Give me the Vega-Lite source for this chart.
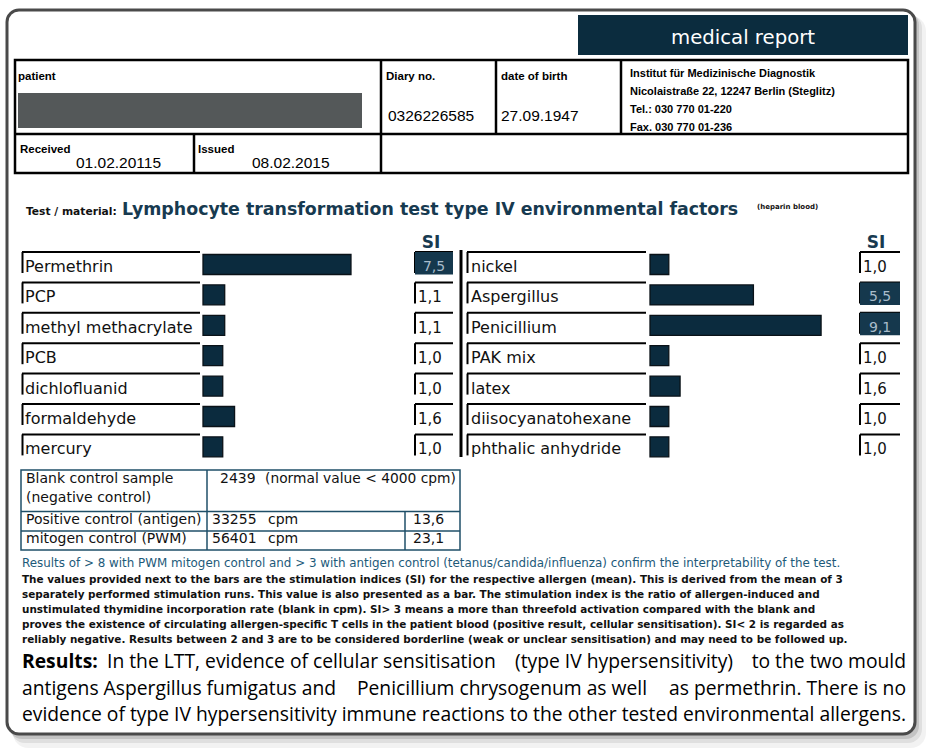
{
"$schema": "https://vega.github.io/schema/vega-lite/v6.json",
"width": 930, "height": 751, "autosize": {"type": "none"}, "padding": 0,
"background": "white",
"config": {"view": {"stroke": null}, "text": {"font": "Open Sans", "fontSize": 19.3, "align": "left", "baseline": "alphabetic", "color": "#000"}, "locale": {"number": {"decimal": ",", "thousands": ".", "grouping": [3], "currency": ["", " €"]}}},
"resolve": {"scale": {"x": "independent", "y": "independent", "color": "independent"}},
"datasets": {
 "left": [
  {"allergen": "Permethrin", "si": 7.5},
  {"allergen": "PCP", "si": 1.1},
  {"allergen": "methyl methacrylate", "si": 1.1},
  {"allergen": "PCB", "si": 1.0},
  {"allergen": "dichlofluanid", "si": 1.0},
  {"allergen": "formaldehyde", "si": 1.6},
  {"allergen": "mercury", "si": 1.0}
 ],
 "right": [
  {"allergen": "nickel", "si": 1.0},
  {"allergen": "Aspergillus", "si": 5.5},
  {"allergen": "Penicillium", "si": 9.1},
  {"allergen": "PAK mix", "si": 1.0},
  {"allergen": "latex", "si": 1.6},
  {"allergen": "diisocyanatohexane", "si": 1.0},
  {"allergen": "phthalic anhydride", "si": 1.0}
 ],
 "controls": [
  {"control": "Positive control (antigen)", "cpm": 33255, "si": 13.6},
  {"control": "mitogen control (PWM)", "cpm": 56401, "si": 23.1}
 ],
 "blank": [{"control": "Blank control sample", "cpm": 2439}],
 "institute": [
  {"line": "Institut für Medizinische Diagnostik"},
  {"line": "Nicolaistraße 22, 12247 Berlin (Steglitz)"},
  {"line": "Tel.: 030 770 01-220"},
  {"line": "Fax. 030 770 01-236"}
 ],
 "notes": [
  {"line": "The values provided next to the bars are the stimulation indices (SI) for the respective allergen (mean). This is derived from the mean of 3"},
  {"line": "separately performed stimulation runs. This value is also presented as a bar. The stimulation index is the ratio of allergen-induced and"},
  {"line": "unstimulated thymidine incorporation rate (blank in cpm). SI> 3 means a more than threefold activation compared with the blank and"},
  {"line": "proves the existence of circulating allergen-specific T cells in the patient blood (positive result, cellular sensitisation). SI< 2 is regarded as"},
  {"line": "reliably negative. Results between 2 and 3 are to be considered borderline (weak or unclear sensitisation) and may need to be followed up."}
 ]
},
"layer": [
 {"data": {"values": [{}]}, "mark": {"type": "rect", "fill": "#000", "opacity": 0.05, "cornerRadius": 15},
  "encoding": {"x": {"datum": 13, "type": "quantitative", "scale": {"domain": [0, 930], "nice": false, "zero": false}, "axis": null}, "x2": {"datum": 926},
   "y": {"datum": 16, "type": "quantitative", "scale": {"domain": [751, 0], "nice": false, "zero": false}, "axis": null}, "y2": {"datum": 748}}},
 {"data": {"values": [{}]}, "mark": {"type": "rect", "fill": "#000", "opacity": 0.08, "cornerRadius": 14},
  "encoding": {"x": {"datum": 11, "type": "quantitative", "scale": {"domain": [0, 930], "nice": false, "zero": false}, "axis": null}, "x2": {"datum": 922},
   "y": {"datum": 14, "type": "quantitative", "scale": {"domain": [751, 0], "nice": false, "zero": false}, "axis": null}, "y2": {"datum": 743}}},
 {"data": {"values": [{}]}, "mark": {"type": "rect", "fill": "#000", "opacity": 0.12, "cornerRadius": 13},
  "encoding": {"x": {"datum": 9, "type": "quantitative", "scale": {"domain": [0, 930], "nice": false, "zero": false}, "axis": null}, "x2": {"datum": 919},
   "y": {"datum": 12, "type": "quantitative", "scale": {"domain": [751, 0], "nice": false, "zero": false}, "axis": null}, "y2": {"datum": 739}}},
 {"data": {"values": [{}]}, "mark": {"type": "rect", "fill": "#ffffff", "stroke": "#4a4a4a", "strokeWidth": 3, "cornerRadius": 12},
  "encoding": {"x": {"datum": 7, "type": "quantitative", "scale": {"domain": [0, 930], "nice": false, "zero": false}, "axis": null}, "x2": {"datum": 915},
   "y": {"datum": 10, "type": "quantitative", "scale": {"domain": [751, 0], "nice": false, "zero": false}, "axis": null}, "y2": {"datum": 734}}},

 {"data": {"values": [{}]}, "mark": {"type": "rect", "fill": "#0b2c3e"},
  "encoding": {"x": {"datum": 578, "type": "quantitative", "scale": {"domain": [0, 930], "nice": false, "zero": false}, "axis": null}, "x2": {"datum": 908},
   "y": {"datum": 15, "type": "quantitative", "scale": {"domain": [751, 0], "nice": false, "zero": false}, "axis": null}, "y2": {"datum": 55}}},
 {"data": {"values": [{}]}, "mark": {"type": "text", "align": "center", "font": "DejaVu Sans", "fontSize": 19.7, "color": "#ffffff"},
  "encoding": {"x": {"datum": 743, "type": "quantitative", "scale": {"domain": [0, 930], "nice": false, "zero": false}, "axis": null},
   "y": {"datum": 44, "type": "quantitative", "scale": {"domain": [751, 0], "nice": false, "zero": false}, "axis": null}, "text": {"value": "medical report"}}},

 {"data": {"values": [{}]}, "mark": {"type": "rect", "fillOpacity": 0, "stroke": "#000", "strokeWidth": 2.5},
  "encoding": {"x": {"datum": 15, "type": "quantitative", "scale": {"domain": [0, 930], "nice": false, "zero": false}, "axis": null}, "x2": {"datum": 908},
   "y": {"datum": 60, "type": "quantitative", "scale": {"domain": [751, 0], "nice": false, "zero": false}, "axis": null}, "y2": {"datum": 173}}},
 {"data": {"values": [{}]}, "mark": {"type": "rule", "stroke": "#000", "strokeWidth": 2.5},
  "encoding": {"x": {"datum": 15, "type": "quantitative", "scale": {"domain": [0, 930], "nice": false, "zero": false}, "axis": null}, "x2": {"datum": 908},
   "y": {"datum": 134, "type": "quantitative", "scale": {"domain": [751, 0], "nice": false, "zero": false}, "axis": null}}},
 {"data": {"values": [{}]}, "mark": {"type": "rule", "stroke": "#000", "strokeWidth": 2.5},
  "encoding": {"x": {"datum": 381, "type": "quantitative", "scale": {"domain": [0, 930], "nice": false, "zero": false}, "axis": null},
   "y": {"datum": 60, "type": "quantitative", "scale": {"domain": [751, 0], "nice": false, "zero": false}, "axis": null}, "y2": {"datum": 173}}},
 {"data": {"values": [{}]}, "mark": {"type": "rule", "stroke": "#000", "strokeWidth": 2.5},
  "encoding": {"x": {"datum": 496, "type": "quantitative", "scale": {"domain": [0, 930], "nice": false, "zero": false}, "axis": null},
   "y": {"datum": 60, "type": "quantitative", "scale": {"domain": [751, 0], "nice": false, "zero": false}, "axis": null}, "y2": {"datum": 134}}},
 {"data": {"values": [{}]}, "mark": {"type": "rule", "stroke": "#000", "strokeWidth": 2.5},
  "encoding": {"x": {"datum": 621, "type": "quantitative", "scale": {"domain": [0, 930], "nice": false, "zero": false}, "axis": null},
   "y": {"datum": 60, "type": "quantitative", "scale": {"domain": [751, 0], "nice": false, "zero": false}, "axis": null}, "y2": {"datum": 134}}},
 {"data": {"values": [{}]}, "mark": {"type": "rule", "stroke": "#000", "strokeWidth": 2.5},
  "encoding": {"x": {"datum": 194, "type": "quantitative", "scale": {"domain": [0, 930], "nice": false, "zero": false}, "axis": null},
   "y": {"datum": 134, "type": "quantitative", "scale": {"domain": [751, 0], "nice": false, "zero": false}, "axis": null}, "y2": {"datum": 173}}},
 {"data": {"values": [{}]}, "mark": {"type": "rect", "fill": "#545859"},
  "encoding": {"x": {"datum": 18, "type": "quantitative", "scale": {"domain": [0, 930], "nice": false, "zero": false}, "axis": null}, "x2": {"datum": 362},
   "y": {"datum": 93, "type": "quantitative", "scale": {"domain": [751, 0], "nice": false, "zero": false}, "axis": null}, "y2": {"datum": 128}}},

 {"data": {"values": [{}]}, "mark": {"type": "text", "font": "Liberation Sans", "fontWeight": "bold", "fontSize": 11.5},
  "encoding": {"x": {"datum": 18, "type": "quantitative", "scale": {"domain": [0, 930], "nice": false, "zero": false}, "axis": null},
   "y": {"datum": 80, "type": "quantitative", "scale": {"domain": [751, 0], "nice": false, "zero": false}, "axis": null}, "text": {"value": "patient"}}},
 {"data": {"values": [{}]}, "mark": {"type": "text", "font": "Liberation Sans", "fontWeight": "bold", "fontSize": 11.5},
  "encoding": {"x": {"datum": 386, "type": "quantitative", "scale": {"domain": [0, 930], "nice": false, "zero": false}, "axis": null},
   "y": {"datum": 80, "type": "quantitative", "scale": {"domain": [751, 0], "nice": false, "zero": false}, "axis": null}, "text": {"value": "Diary no."}}},
 {"data": {"values": [{}]}, "mark": {"type": "text", "font": "Liberation Sans", "fontWeight": "bold", "fontSize": 11.5},
  "encoding": {"x": {"datum": 501, "type": "quantitative", "scale": {"domain": [0, 930], "nice": false, "zero": false}, "axis": null},
   "y": {"datum": 80, "type": "quantitative", "scale": {"domain": [751, 0], "nice": false, "zero": false}, "axis": null}, "text": {"value": "date of birth"}}},
 {"data": {"values": [{}]}, "mark": {"type": "text", "font": "Liberation Sans", "fontWeight": "bold", "fontSize": 11.5},
  "encoding": {"x": {"datum": 20, "type": "quantitative", "scale": {"domain": [0, 930], "nice": false, "zero": false}, "axis": null},
   "y": {"datum": 153, "type": "quantitative", "scale": {"domain": [751, 0], "nice": false, "zero": false}, "axis": null}, "text": {"value": "Received"}}},
 {"data": {"values": [{}]}, "mark": {"type": "text", "font": "Liberation Sans", "fontWeight": "bold", "fontSize": 11.5},
  "encoding": {"x": {"datum": 198, "type": "quantitative", "scale": {"domain": [0, 930], "nice": false, "zero": false}, "axis": null},
   "y": {"datum": 153, "type": "quantitative", "scale": {"domain": [751, 0], "nice": false, "zero": false}, "axis": null}, "text": {"value": "Issued"}}},
 {"data": {"name": "institute"},
  "mark": {"type": "text", "font": "Liberation Sans", "fontWeight": "bold", "fontSize": 11},
  "encoding": {"x": {"datum": 630, "type": "quantitative", "scale": {"domain": [0, 930], "nice": false, "zero": false}, "axis": null},
   "y": {"field": "line", "type": "nominal", "sort": null, "scale": {"type": "point", "range": [77, 131], "padding": 0}, "axis": null}, "text": {"field": "line"}}},
 {"data": {"values": [{}]}, "mark": {"type": "text", "font": "Liberation Sans", "fontSize": 15.5},
  "encoding": {"x": {"datum": 388, "type": "quantitative", "scale": {"domain": [0, 930], "nice": false, "zero": false}, "axis": null},
   "y": {"datum": 121, "type": "quantitative", "scale": {"domain": [751, 0], "nice": false, "zero": false}, "axis": null}, "text": {"value": "0326226585"}}},
 {"data": {"values": [{}]}, "mark": {"type": "text", "font": "Liberation Sans", "fontSize": 15.5},
  "encoding": {"x": {"datum": 501, "type": "quantitative", "scale": {"domain": [0, 930], "nice": false, "zero": false}, "axis": null},
   "y": {"datum": 121, "type": "quantitative", "scale": {"domain": [751, 0], "nice": false, "zero": false}, "axis": null}, "text": {"value": "27.09.1947"}}},
 {"data": {"values": [{}]}, "mark": {"type": "text", "font": "Liberation Sans", "fontSize": 15.5},
  "encoding": {"x": {"datum": 76, "type": "quantitative", "scale": {"domain": [0, 930], "nice": false, "zero": false}, "axis": null},
   "y": {"datum": 168, "type": "quantitative", "scale": {"domain": [751, 0], "nice": false, "zero": false}, "axis": null}, "text": {"value": "01.02.20115"}}},
 {"data": {"values": [{}]}, "mark": {"type": "text", "font": "Liberation Sans", "fontSize": 15.5},
  "encoding": {"x": {"datum": 252, "type": "quantitative", "scale": {"domain": [0, 930], "nice": false, "zero": false}, "axis": null},
   "y": {"datum": 168, "type": "quantitative", "scale": {"domain": [751, 0], "nice": false, "zero": false}, "axis": null}, "text": {"value": "08.02.2015"}}},

 {"data": {"values": [{}]}, "mark": {"type": "text", "font": "DejaVu Sans", "fontWeight": "bold", "fontSize": 10.7, "color": "#111"},
  "encoding": {"x": {"datum": 26, "type": "quantitative", "scale": {"domain": [0, 930], "nice": false, "zero": false}, "axis": null},
   "y": {"datum": 215, "type": "quantitative", "scale": {"domain": [751, 0], "nice": false, "zero": false}, "axis": null}, "text": {"value": "Test / material:"}}},
 {"data": {"values": [{}]}, "mark": {"type": "text", "font": "DejaVu Sans", "fontWeight": "bold", "fontSize": 17.4, "color": "#173a50"},
  "encoding": {"x": {"datum": 122, "type": "quantitative", "scale": {"domain": [0, 930], "nice": false, "zero": false}, "axis": null},
   "y": {"datum": 215, "type": "quantitative", "scale": {"domain": [751, 0], "nice": false, "zero": false}, "axis": null}, "text": {"value": "Lymphocyte transformation test type IV environmental factors"}}},
 {"data": {"values": [{}]}, "mark": {"type": "text", "font": "DejaVu Sans", "fontWeight": "bold", "fontSize": 7, "color": "#111"},
  "encoding": {"x": {"datum": 757, "type": "quantitative", "scale": {"domain": [0, 930], "nice": false, "zero": false}, "axis": null},
   "y": {"datum": 209, "type": "quantitative", "scale": {"domain": [751, 0], "nice": false, "zero": false}, "axis": null}, "text": {"value": "(heparin blood)"}}},
 {"data": {"values": [{"h": "SI", "col": "a"}, {"h": "SI", "col": "b"}]},
  "mark": {"type": "text", "align": "center", "font": "DejaVu Sans", "fontWeight": "bold", "fontSize": 17, "color": "#173a50"},
  "encoding": {"x": {"field": "col", "type": "nominal", "scale": {"type": "point", "domain": ["a", "b"], "range": [431, 876], "padding": 0}, "axis": null},
   "y": {"datum": 248, "type": "quantitative", "scale": {"domain": [751, 0], "nice": false, "zero": false}, "axis": null}, "text": {"field": "h"}}},

 {"data": {"name": "left"}, "mark": {"type": "rule", "stroke": "#000", "strokeWidth": 2},
  "encoding": {"x": {"datum": 22, "type": "quantitative", "scale": {"domain": [0, 930], "nice": false, "zero": false}, "axis": null}, "x2": {"datum": 200},
   "y": {"field": "allergen", "type": "nominal", "scale": {"type": "point", "domain": ["Permethrin", "PCP", "methyl methacrylate", "PCB", "dichlofluanid", "formaldehyde", "mercury"], "range": [252, 434.4], "padding": 0}, "axis": null}}},
 {"data": {"name": "left"}, "mark": {"type": "bar", "size": 21, "color": "#000"},
  "encoding": {"x": {"datum": 21.5, "type": "quantitative", "scale": {"domain": [0, 930], "nice": false, "zero": false}, "axis": null}, "x2": {"datum": 23.5},
   "y": {"field": "allergen", "type": "nominal", "scale": {"type": "band", "domain": ["Permethrin", "PCP", "methyl methacrylate", "PCB", "dichlofluanid", "formaldehyde", "mercury"], "range": [247.3, 460.1], "paddingInner": 0, "paddingOuter": 0}, "axis": null}}},
 {"data": {"name": "left"}, "mark": {"type": "rule", "stroke": "#000", "strokeWidth": 2},
  "encoding": {"x": {"datum": 415, "type": "quantitative", "scale": {"domain": [0, 930], "nice": false, "zero": false}, "axis": null}, "x2": {"datum": 453},
   "y": {"field": "allergen", "type": "nominal", "scale": {"type": "point", "domain": ["Permethrin", "PCP", "methyl methacrylate", "PCB", "dichlofluanid", "formaldehyde", "mercury"], "range": [252, 434.4], "padding": 0}, "axis": null}}},
 {"data": {"name": "left"}, "mark": {"type": "bar", "size": 21, "color": "#000"},
  "encoding": {"x": {"datum": 414, "type": "quantitative", "scale": {"domain": [0, 930], "nice": false, "zero": false}, "axis": null}, "x2": {"datum": 416},
   "y": {"field": "allergen", "type": "nominal", "scale": {"type": "band", "domain": ["Permethrin", "PCP", "methyl methacrylate", "PCB", "dichlofluanid", "formaldehyde", "mercury"], "range": [247.3, 460.1], "paddingInner": 0, "paddingOuter": 0}, "axis": null}}},
 {"data": {"name": "left"}, "mark": {"type": "bar", "size": 20, "fill": "#0b2b3e", "stroke": "#0a1218", "strokeWidth": 1.3},
  "encoding": {"x": {"field": "si", "type": "quantitative", "scale": {"domain": [0, 10], "range": [203, 400.3], "nice": false, "zero": true}, "axis": null},
   "y": {"field": "allergen", "type": "nominal", "scale": {"type": "band", "domain": ["Permethrin", "PCP", "methyl methacrylate", "PCB", "dichlofluanid", "formaldehyde", "mercury"], "range": [249.3, 462.1], "paddingInner": 0, "paddingOuter": 0}, "axis": null}}},
 {"data": {"name": "left"}, "mark": {"type": "text", "font": "DejaVu Sans", "fontSize": 16, "color": "#111"},
  "encoding": {"x": {"datum": 25, "type": "quantitative", "scale": {"domain": [0, 930], "nice": false, "zero": false}, "axis": null},
   "y": {"field": "allergen", "type": "nominal", "scale": {"type": "point", "domain": ["Permethrin", "PCP", "methyl methacrylate", "PCB", "dichlofluanid", "formaldehyde", "mercury"], "range": [272, 454.4], "padding": 0}, "axis": null},
   "text": {"field": "allergen"}}},
 {"data": {"name": "left"}, "transform": [{"filter": "datum.si >= 3"}], "mark": {"type": "bar", "size": 22.5, "color": "#15384d"},
  "encoding": {"x": {"datum": 415, "type": "quantitative", "scale": {"domain": [0, 930], "nice": false, "zero": false}, "axis": null}, "x2": {"datum": 453},
   "y": {"field": "allergen", "type": "nominal", "scale": {"type": "band", "domain": ["Permethrin", "PCP", "methyl methacrylate", "PCB", "dichlofluanid", "formaldehyde", "mercury"], "range": [248.05, 460.85], "paddingInner": 0, "paddingOuter": 0}, "axis": null}}},
 {"data": {"name": "left"}, "transform": [{"filter": "datum.si < 3"}], "mark": {"type": "text", "font": "DejaVu Sans", "fontSize": 15, "color": "#111"},
  "encoding": {"x": {"datum": 418, "type": "quantitative", "scale": {"domain": [0, 930], "nice": false, "zero": false}, "axis": null},
   "y": {"field": "allergen", "type": "nominal", "scale": {"type": "point", "domain": ["Permethrin", "PCP", "methyl methacrylate", "PCB", "dichlofluanid", "formaldehyde", "mercury"], "range": [272, 454.4], "padding": 0}, "axis": null},
   "text": {"field": "si", "type": "quantitative", "format": ".1f"}}},
 {"data": {"name": "left"}, "transform": [{"filter": "datum.si >= 3"}], "mark": {"type": "text", "align": "center", "font": "DejaVu Sans", "fontSize": 14, "color": "#a9bccb"},
  "encoding": {"x": {"datum": 434, "type": "quantitative", "scale": {"domain": [0, 930], "nice": false, "zero": false}, "axis": null},
   "y": {"field": "allergen", "type": "nominal", "scale": {"type": "point", "domain": ["Permethrin", "PCP", "methyl methacrylate", "PCB", "dichlofluanid", "formaldehyde", "mercury"], "range": [271, 453.4], "padding": 0}, "axis": null},
   "text": {"field": "si", "type": "quantitative", "format": ".1f"}}},

 {"data": {"name": "right"}, "mark": {"type": "rule", "stroke": "#000", "strokeWidth": 2},
  "encoding": {"x": {"datum": 467, "type": "quantitative", "scale": {"domain": [0, 930], "nice": false, "zero": false}, "axis": null}, "x2": {"datum": 646},
   "y": {"field": "allergen", "type": "nominal", "scale": {"type": "point", "domain": ["nickel", "Aspergillus", "Penicillium", "PAK mix", "latex", "diisocyanatohexane", "phthalic anhydride"], "range": [252, 434.4], "padding": 0}, "axis": null}}},
 {"data": {"name": "right"}, "mark": {"type": "bar", "size": 21, "color": "#000"},
  "encoding": {"x": {"datum": 466.5, "type": "quantitative", "scale": {"domain": [0, 930], "nice": false, "zero": false}, "axis": null}, "x2": {"datum": 468.5},
   "y": {"field": "allergen", "type": "nominal", "scale": {"type": "band", "domain": ["nickel", "Aspergillus", "Penicillium", "PAK mix", "latex", "diisocyanatohexane", "phthalic anhydride"], "range": [247.3, 460.1], "paddingInner": 0, "paddingOuter": 0}, "axis": null}}},
 {"data": {"name": "right"}, "mark": {"type": "rule", "stroke": "#000", "strokeWidth": 2},
  "encoding": {"x": {"datum": 860, "type": "quantitative", "scale": {"domain": [0, 930], "nice": false, "zero": false}, "axis": null}, "x2": {"datum": 900},
   "y": {"field": "allergen", "type": "nominal", "scale": {"type": "point", "domain": ["nickel", "Aspergillus", "Penicillium", "PAK mix", "latex", "diisocyanatohexane", "phthalic anhydride"], "range": [252, 434.4], "padding": 0}, "axis": null}}},
 {"data": {"name": "right"}, "mark": {"type": "bar", "size": 21, "color": "#000"},
  "encoding": {"x": {"datum": 859, "type": "quantitative", "scale": {"domain": [0, 930], "nice": false, "zero": false}, "axis": null}, "x2": {"datum": 861},
   "y": {"field": "allergen", "type": "nominal", "scale": {"type": "band", "domain": ["nickel", "Aspergillus", "Penicillium", "PAK mix", "latex", "diisocyanatohexane", "phthalic anhydride"], "range": [247.3, 460.1], "paddingInner": 0, "paddingOuter": 0}, "axis": null}}},
 {"data": {"name": "right"}, "mark": {"type": "bar", "size": 20, "fill": "#0b2b3e", "stroke": "#0a1218", "strokeWidth": 1.3},
  "encoding": {"x": {"field": "si", "type": "quantitative", "scale": {"domain": [0, 10], "range": [650, 838], "nice": false, "zero": true}, "axis": null},
   "y": {"field": "allergen", "type": "nominal", "scale": {"type": "band", "domain": ["nickel", "Aspergillus", "Penicillium", "PAK mix", "latex", "diisocyanatohexane", "phthalic anhydride"], "range": [249.3, 462.1], "paddingInner": 0, "paddingOuter": 0}, "axis": null}}},
 {"data": {"name": "right"}, "mark": {"type": "text", "font": "DejaVu Sans", "fontSize": 16, "color": "#111"},
  "encoding": {"x": {"datum": 471, "type": "quantitative", "scale": {"domain": [0, 930], "nice": false, "zero": false}, "axis": null},
   "y": {"field": "allergen", "type": "nominal", "scale": {"type": "point", "domain": ["nickel", "Aspergillus", "Penicillium", "PAK mix", "latex", "diisocyanatohexane", "phthalic anhydride"], "range": [272, 454.4], "padding": 0}, "axis": null},
   "text": {"field": "allergen"}}},
 {"data": {"name": "right"}, "transform": [{"filter": "datum.si >= 3"}], "mark": {"type": "bar", "size": 22.5, "color": "#15384d"},
  "encoding": {"x": {"datum": 860, "type": "quantitative", "scale": {"domain": [0, 930], "nice": false, "zero": false}, "axis": null}, "x2": {"datum": 900},
   "y": {"field": "allergen", "type": "nominal", "scale": {"type": "band", "domain": ["nickel", "Aspergillus", "Penicillium", "PAK mix", "latex", "diisocyanatohexane", "phthalic anhydride"], "range": [248.05, 460.85], "paddingInner": 0, "paddingOuter": 0}, "axis": null}}},
 {"data": {"name": "right"}, "transform": [{"filter": "datum.si < 3"}], "mark": {"type": "text", "font": "DejaVu Sans", "fontSize": 15, "color": "#111"},
  "encoding": {"x": {"datum": 863, "type": "quantitative", "scale": {"domain": [0, 930], "nice": false, "zero": false}, "axis": null},
   "y": {"field": "allergen", "type": "nominal", "scale": {"type": "point", "domain": ["nickel", "Aspergillus", "Penicillium", "PAK mix", "latex", "diisocyanatohexane", "phthalic anhydride"], "range": [272, 454.4], "padding": 0}, "axis": null},
   "text": {"field": "si", "type": "quantitative", "format": ".1f"}}},
 {"data": {"name": "right"}, "transform": [{"filter": "datum.si >= 3"}], "mark": {"type": "text", "align": "center", "font": "DejaVu Sans", "fontSize": 14, "color": "#a9bccb"},
  "encoding": {"x": {"datum": 880, "type": "quantitative", "scale": {"domain": [0, 930], "nice": false, "zero": false}, "axis": null},
   "y": {"field": "allergen", "type": "nominal", "scale": {"type": "point", "domain": ["nickel", "Aspergillus", "Penicillium", "PAK mix", "latex", "diisocyanatohexane", "phthalic anhydride"], "range": [271, 453.4], "padding": 0}, "axis": null},
   "text": {"field": "si", "type": "quantitative", "format": ".1f"}}},

 {"data": {"values": [{}]}, "mark": {"type": "rule", "stroke": "#000", "strokeWidth": 3},
  "encoding": {"x": {"datum": 461, "type": "quantitative", "scale": {"domain": [0, 930], "nice": false, "zero": false}, "axis": null},
   "y": {"datum": 250, "type": "quantitative", "scale": {"domain": [751, 0], "nice": false, "zero": false}, "axis": null}, "y2": {"datum": 457}}},

 {"data": {"values": [{}]}, "mark": {"type": "rect", "fillOpacity": 0, "stroke": "#1f4f68", "strokeWidth": 1.5},
  "encoding": {"x": {"datum": 21, "type": "quantitative", "scale": {"domain": [0, 930], "nice": false, "zero": false}, "axis": null}, "x2": {"datum": 460},
   "y": {"datum": 470, "type": "quantitative", "scale": {"domain": [751, 0], "nice": false, "zero": false}, "axis": null}, "y2": {"datum": 550}}},
 {"data": {"values": [{}]}, "mark": {"type": "rule", "stroke": "#1f4f68", "strokeWidth": 1.5},
  "encoding": {"x": {"datum": 21, "type": "quantitative", "scale": {"domain": [0, 930], "nice": false, "zero": false}, "axis": null}, "x2": {"datum": 460},
   "y": {"datum": 511.5, "type": "quantitative", "scale": {"domain": [751, 0], "nice": false, "zero": false}, "axis": null}}},
 {"data": {"values": [{}]}, "mark": {"type": "rule", "stroke": "#1f4f68", "strokeWidth": 1.5},
  "encoding": {"x": {"datum": 21, "type": "quantitative", "scale": {"domain": [0, 930], "nice": false, "zero": false}, "axis": null}, "x2": {"datum": 460},
   "y": {"datum": 531, "type": "quantitative", "scale": {"domain": [751, 0], "nice": false, "zero": false}, "axis": null}}},
 {"data": {"values": [{}]}, "mark": {"type": "rule", "stroke": "#1f4f68", "strokeWidth": 1.5},
  "encoding": {"x": {"datum": 207, "type": "quantitative", "scale": {"domain": [0, 930], "nice": false, "zero": false}, "axis": null},
   "y": {"datum": 470, "type": "quantitative", "scale": {"domain": [751, 0], "nice": false, "zero": false}, "axis": null}, "y2": {"datum": 550}}},
 {"data": {"values": [{}]}, "mark": {"type": "rule", "stroke": "#1f4f68", "strokeWidth": 1.5},
  "encoding": {"x": {"datum": 405, "type": "quantitative", "scale": {"domain": [0, 930], "nice": false, "zero": false}, "axis": null},
   "y": {"datum": 511.5, "type": "quantitative", "scale": {"domain": [751, 0], "nice": false, "zero": false}, "axis": null}, "y2": {"datum": 550}}},
 {"data": {"values": [{"t": "Blank control sample"}, {"t": "(negative control)"}]},
  "mark": {"type": "text", "font": "DejaVu Sans", "fontSize": 14, "color": "#111"},
  "encoding": {"x": {"datum": 26, "type": "quantitative", "scale": {"domain": [0, 930], "nice": false, "zero": false}, "axis": null},
   "y": {"field": "t", "type": "nominal", "sort": null, "scale": {"type": "point", "range": [483, 502], "padding": 0}, "axis": null}, "text": {"field": "t"}}},
 {"data": {"name": "blank"},
  "mark": {"type": "text", "font": "DejaVu Sans", "fontSize": 14, "color": "#111"},
  "encoding": {"x": {"datum": 220, "type": "quantitative", "scale": {"domain": [0, 930], "nice": false, "zero": false}, "axis": null},
   "y": {"datum": 483, "type": "quantitative", "scale": {"domain": [751, 0], "nice": false, "zero": false}, "axis": null}, "text": {"field": "cpm", "type": "quantitative", "format": "d"}}},
 {"data": {"values": [{}]},
  "mark": {"type": "text", "font": "DejaVu Sans", "fontSize": 13.8, "color": "#111"},
  "encoding": {"x": {"datum": 265, "type": "quantitative", "scale": {"domain": [0, 930], "nice": false, "zero": false}, "axis": null},
   "y": {"datum": 483, "type": "quantitative", "scale": {"domain": [751, 0], "nice": false, "zero": false}, "axis": null}, "text": {"value": "(normal value < 4000 cpm)"}}},
 {"data": {"name": "controls"},
  "mark": {"type": "text", "font": "DejaVu Sans", "fontSize": 14, "color": "#111"},
  "encoding": {"x": {"datum": 26, "type": "quantitative", "scale": {"domain": [0, 930], "nice": false, "zero": false}, "axis": null},
   "y": {"field": "control", "type": "nominal", "sort": null, "scale": {"type": "point", "range": [524, 543], "padding": 0}, "axis": null}, "text": {"field": "control"}}},
 {"data": {"name": "controls"},
  "mark": {"type": "text", "font": "DejaVu Sans", "fontSize": 14, "color": "#111"},
  "encoding": {"x": {"datum": 212, "type": "quantitative", "scale": {"domain": [0, 930], "nice": false, "zero": false}, "axis": null},
   "y": {"field": "control", "type": "nominal", "sort": null, "scale": {"type": "point", "range": [524, 543], "padding": 0}, "axis": null}, "text": {"field": "cpm", "type": "quantitative", "format": "d"}}},
 {"data": {"name": "controls"},
  "mark": {"type": "text", "font": "DejaVu Sans", "fontSize": 14, "color": "#111", "text": "cpm"},
  "encoding": {"x": {"datum": 268, "type": "quantitative", "scale": {"domain": [0, 930], "nice": false, "zero": false}, "axis": null},
   "y": {"field": "control", "type": "nominal", "sort": null, "scale": {"type": "point", "range": [524, 543], "padding": 0}, "axis": null}}},
 {"data": {"name": "controls"},
  "mark": {"type": "text", "font": "DejaVu Sans", "fontSize": 14, "color": "#111"},
  "encoding": {"x": {"datum": 413, "type": "quantitative", "scale": {"domain": [0, 930], "nice": false, "zero": false}, "axis": null},
   "y": {"field": "control", "type": "nominal", "sort": null, "scale": {"type": "point", "range": [524, 543], "padding": 0}, "axis": null}, "text": {"field": "si", "type": "quantitative", "format": ".1f"}}},

 {"data": {"values": [{}]}, "mark": {"type": "text", "font": "DejaVu Sans", "fontSize": 11.9, "color": "#1d5a7a"},
  "encoding": {"x": {"datum": 22, "type": "quantitative", "scale": {"domain": [0, 930], "nice": false, "zero": false}, "axis": null},
   "y": {"datum": 567, "type": "quantitative", "scale": {"domain": [751, 0], "nice": false, "zero": false}, "axis": null},
   "text": {"value": "Results of > 8 with PWM mitogen control and > 3 with antigen control (tetanus/candida/influenza) confirm the interpretability of the test."}}},
 {"data": {"name": "notes"},
  "mark": {"type": "text", "font": "DejaVu Sans", "fontWeight": "bold", "fontSize": 10.45, "color": "#111"},
  "encoding": {"x": {"datum": 22, "type": "quantitative", "scale": {"domain": [0, 930], "nice": false, "zero": false}, "axis": null},
   "y": {"field": "line", "type": "nominal", "sort": null, "scale": {"type": "point", "range": [583, 643], "padding": 0}, "axis": null}, "text": {"field": "line"}}},

 {"data": {"values": [{}]},
  "encoding": {"y": {"datum": 668, "type": "quantitative", "scale": {"domain": [751, 0], "nice": false, "zero": false}, "axis": null}},
  "layer": [
   {"mark": {"type": "text", "fontWeight": "bold"}, "encoding": {"x": {"datum": 22, "type": "quantitative", "scale": {"domain": [0, 930], "nice": false, "zero": false}, "axis": null}, "text": {"value": "Results:"}}},
   {"mark": "text", "encoding": {"x": {"datum": 107, "type": "quantitative", "scale": {"domain": [0, 930], "nice": false, "zero": false}, "axis": null}, "text": {"value": "In the LTT, evidence of cellular sensitisation"}}},
   {"mark": {"type": "text", "align": "center"}, "encoding": {"x": {"datum": 624, "type": "quantitative", "scale": {"domain": [0, 930], "nice": false, "zero": false}, "axis": null}, "text": {"value": "(type IV hypersensitivity)"}}},
   {"mark": {"type": "text", "align": "right"}, "encoding": {"x": {"datum": 906, "type": "quantitative", "scale": {"domain": [0, 930], "nice": false, "zero": false}, "axis": null}, "text": {"value": "to the two mould"}}}
  ]},
 {"data": {"values": [{}]},
  "encoding": {"y": {"datum": 695, "type": "quantitative", "scale": {"domain": [751, 0], "nice": false, "zero": false}, "axis": null}},
  "layer": [
   {"mark": "text", "encoding": {"x": {"datum": 22, "type": "quantitative", "scale": {"domain": [0, 930], "nice": false, "zero": false}, "axis": null}, "text": {"value": "antigens Aspergillus fumigatus and"}}},
   {"mark": {"type": "text", "align": "center"}, "encoding": {"x": {"datum": 502, "type": "quantitative", "scale": {"domain": [0, 930], "nice": false, "zero": false}, "axis": null}, "text": {"value": "Penicillium chrysogenum as well"}}},
   {"mark": {"type": "text", "align": "right"}, "encoding": {"x": {"datum": 906, "type": "quantitative", "scale": {"domain": [0, 930], "nice": false, "zero": false}, "axis": null}, "text": {"value": "as permethrin. There is no"}}}
  ]},
 {"data": {"values": [{}]},
  "encoding": {"y": {"datum": 721, "type": "quantitative", "scale": {"domain": [751, 0], "nice": false, "zero": false}, "axis": null}},
  "layer": [
   {"mark": "text", "encoding": {"x": {"datum": 22, "type": "quantitative", "scale": {"domain": [0, 930], "nice": false, "zero": false}, "axis": null}, "text": {"value": "evidence of type IV hypersensitivity immune reactions"}}},
   {"mark": {"type": "text", "align": "right"}, "encoding": {"x": {"datum": 906, "type": "quantitative", "scale": {"domain": [0, 930], "nice": false, "zero": false}, "axis": null}, "text": {"value": "to the other tested environmental allergens."}}}
  ]}
]
}
